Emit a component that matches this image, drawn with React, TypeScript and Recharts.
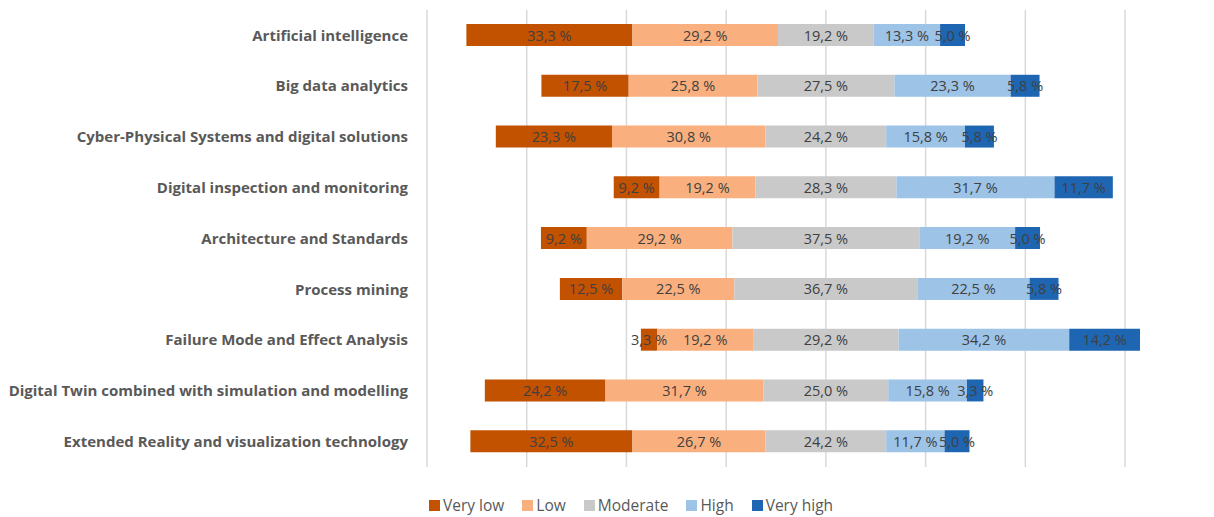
import React from "react";
import { BarChart, Bar, XAxis, YAxis, CartesianGrid, LabelList } from "recharts";

const categories = [
  "Artificial intelligence",
  "Big data analytics",
  "Cyber-Physical Systems and digital solutions",
  "Digital inspection and monitoring",
  "Architecture and Standards",
  "Process mining",
  "Failure Mode and Effect Analysis",
  "Digital Twin combined with simulation and modelling",
  "Extended Reality and visualization technology",
];

const veryLow = [33.3, 17.5, 23.3, 9.2, 9.2, 12.5, 3.3, 24.2, 32.5];
const low = [29.2, 25.8, 30.8, 19.2, 29.2, 22.5, 19.2, 31.7, 26.7];
const moderate = [19.2, 27.5, 24.2, 28.3, 37.5, 36.7, 29.2, 25.0, 24.2];
const high = [13.3, 23.3, 15.8, 31.7, 19.2, 22.5, 34.2, 15.8, 11.7];
const veryHigh = [5.0, 5.8, 5.8, 11.7, 5.0, 5.8, 14.2, 3.3, 5.0];

const seriesKeys = ["veryLow", "low", "moderate", "high", "veryHigh"];
const seriesNames = ["Very low", "Low", "Moderate", "High", "Very high"];
const seriesColors = ["#C25100", "#F9B07E", "#C9C9C9", "#9DC3E6", "#1E66B2"];
const xTicks = [-80, -60, -40, -20, 0, 20, 40, 60];
const xDomain = [-80, 64];

const data = categories.map((name, i) => ({
  name,
  offset: -(veryLow[i] + low[i] + moderate[i] / 2),
  veryLow: veryLow[i],
  low: low[i],
  moderate: moderate[i],
  high: high[i],
  veryHigh: veryHigh[i],
}));

const fmt = (v: any) => `${Number(v).toFixed(1).replace(".", ",")} %`;

const FONT = "'Open Sans', 'Noto Sans', sans-serif";

const renderLabel = (props: any) => {
  const { x, y, width, height, value } = props;
  const cx = Number(x) + Number(width) / 2;
  const cy = Number(y) + Number(height) / 2;
  return (
    <text x={cx} y={cy} textAnchor="middle" dominantBaseline="central" fill="#404040" fontSize={14.5} fontFamily={FONT}>
      {fmt(value)}
    </text>
  );
};

const gridX = (args: any) => {
  const { xAxis, offset } = args;
  if (xAxis && typeof xAxis.scale === "function") {
    return xTicks.map((t) => xAxis.scale(t));
  }
  return xTicks.map((t) => offset.left + ((t - xDomain[0]) / (xDomain[1] - xDomain[0])) * offset.width);
};

export default function App() {
  return (
    <div style={{ position: "absolute", left: 0, top: 0, width: 1214, height: 517, background: "#fff", fontFamily: FONT }}>
      <BarChart
        width={1214}
        height={517}
        data={data}
        layout="vertical"
        margin={{ top: 10, right: 69, bottom: 50, left: 0 }}
        barCategoryGap={0}
      >
        <CartesianGrid vertical={true} horizontal={false} stroke="#D9D9D9" strokeWidth={1.5} verticalCoordinatesGenerator={gridX} />
        <XAxis type="number" domain={xDomain} ticks={xTicks} hide allowDataOverflow />
        <YAxis
          type="category"
          dataKey="name"
          width={427}
          axisLine={false}
          tickLine={false}
          tickMargin={13}
          interval={0}
          tick={{ fill: "#595959", fontSize: 15, fontWeight: 700, fontFamily: FONT }}
        />
        <Bar dataKey="offset" stackId="a" fill="transparent" barSize={22} isAnimationActive={false} />
        {seriesKeys.map((k, i) => (
          <Bar key={k} dataKey={k} name={seriesNames[i]} stackId="a" fill={seriesColors[i]} barSize={22} isAnimationActive={false}>
            <LabelList dataKey={k} content={renderLabel} />
          </Bar>
        ))}
      </BarChart>
      <div style={{ position: "absolute", left: 429, top: 494, display: "flex", alignItems: "center", fontSize: 15.5, color: "#595959", fontFamily: FONT, whiteSpace: "nowrap" }}>
        {seriesNames.map((n, i) => (
          <div key={n} style={{ display: "flex", alignItems: "center", marginRight: 18 }}>
            <span style={{ display: "inline-block", width: 11, height: 11, background: seriesColors[i], marginRight: 3 }} />
            <span>{n}</span>
          </div>
        ))}
      </div>
    </div>
  );
}
